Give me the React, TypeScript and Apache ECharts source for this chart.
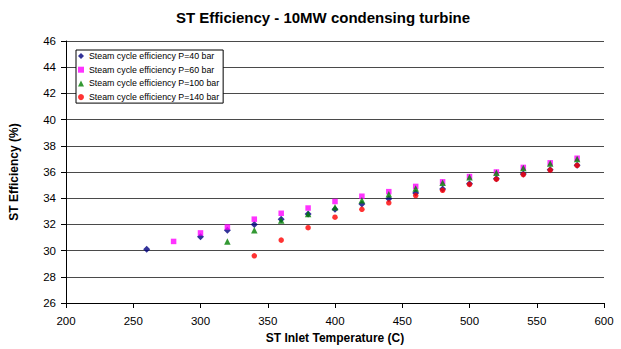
import React, { useEffect, useRef } from "react";
import * as echarts from "echarts";

// Inlet temperatures (C) for each pressure level
const temps40 = [260, 300, 320, 340, 360, 380, 400, 420, 440, 460, 480, 500, 520, 540, 560, 580];
const eff40 = [30.1, 31.05, 31.55, 32.0, 32.4, 32.8, 33.15, 33.55, 33.95, 34.4, 34.7, 35.1, 35.48, 35.85, 36.18, 36.52];

const temps60 = [280, 300, 320, 340, 360, 380, 400, 420, 440, 460, 480, 500, 520, 540, 560, 580];
const eff60 = [30.7, 31.35, 31.8, 32.4, 32.85, 33.25, 33.75, 34.15, 34.5, 34.9, 35.25, 35.65, 36.0, 36.35, 36.7, 37.05];

const temps100 = [320, 340, 360, 380, 400, 420, 440, 460, 480, 500, 520, 540, 560, 580];
const eff100 = [30.7, 31.55, 32.3, 32.8, 33.3, 33.85, 34.3, 34.75, 35.18, 35.6, 35.95, 36.3, 36.65, 37.0];

const temps140 = [340, 360, 380, 400, 420, 440, 460, 480, 500, 520, 540, 560, 580];
const eff140 = [29.6, 30.8, 31.75, 32.55, 33.15, 33.65, 34.2, 34.6, 35.05, 35.45, 35.8, 36.15, 36.5];

const seriesNames = [
  "Steam cycle efficiency P=40 bar",
  "Steam cycle efficiency P=60 bar",
  "Steam cycle efficiency P=100 bar",
  "Steam cycle efficiency P=140 bar",
];

const pairs = (xs: number[], ys: number[]) => xs.map((x, i) => [x, ys[i]]);

export default function App() {
  const ref = useRef<HTMLDivElement>(null);

  useEffect(() => {
    if (!ref.current) return;
    const chart = echarts.init(ref.current, null, { renderer: "svg" });
    const font = "Liberation Sans, Arial, sans-serif";
    chart.setOption({
      animation: false,
      backgroundColor: "#fff",
      textStyle: { fontFamily: font },
      graphic: [
        {
          type: "text",
          x: 323,
          y: 17,
          style: {
            text: "ST Efficiency - 10MW condensing turbine",
            fontFamily: font,
            fontSize: 15,
            fontWeight: "bold",
            fill: "#000",
            align: "center",
            verticalAlign: "middle",
          },
        },
      ],
      grid: { left: 65, right: 17, top: 41, bottom: 46, containLabel: false },
      legend: {
        orient: "vertical",
        left: 76,
        top: 50,
        padding: [1, 4, 1, 2],
        itemWidth: 6,
        itemHeight: 6,
        itemGap: 3.7,
        backgroundColor: "#fff",
        borderColor: "#000",
        borderWidth: 1,
        borderRadius: 0,
        textStyle: { fontFamily: font, fontSize: 8.8, color: "#000", lineHeight: 10 },
        data: seriesNames,
      },
      xAxis: {
        type: "value",
        min: 200,
        max: 600,
        interval: 50,
        name: "ST Inlet Temperature (C)",
        nameLocation: "middle",
        nameGap: 24,
        nameTextStyle: { fontFamily: font, fontSize: 12, fontWeight: "bold", color: "#000" },
        axisLine: { show: true, onZero: false, lineStyle: { color: "#000", width: 1 } },
        axisTick: { show: true, inside: false, length: 5, lineStyle: { color: "#000" } },
        axisLabel: { fontFamily: font, fontSize: 11.5, color: "#000", margin: 12 },
        splitLine: { show: false },
      },
      yAxis: {
        type: "value",
        min: 26,
        max: 46,
        interval: 2,
        name: "ST Efficiency (%)",
        nameLocation: "middle",
        nameGap: 46,
        nameTextStyle: { fontFamily: font, fontSize: 12, fontWeight: "bold", color: "#000" },
        axisLine: { show: true, lineStyle: { color: "#000", width: 1 } },
        axisTick: { show: true, inside: false, length: 5, lineStyle: { color: "#000" } },
        axisLabel: { fontFamily: font, fontSize: 11.5, color: "#000", margin: 10 },
        splitLine: { show: true, lineStyle: { color: "#4a4a4a", width: 1 } },
      },
      series: [
        {
          name: seriesNames[0],
          type: "scatter",
          symbol: "diamond",
          symbolSize: 7,
          itemStyle: { color: "#000080" },
          data: pairs(temps40, eff40),
        },
        {
          name: seriesNames[1],
          type: "scatter",
          symbol: "rect",
          symbolSize: 5.5,
          itemStyle: { color: "#ff00ff" },
          data: pairs(temps60, eff60),
        },
        {
          name: seriesNames[2],
          type: "scatter",
          symbol: "triangle",
          symbolSize: 6.5,
          itemStyle: { color: "#008000" },
          data: pairs(temps100, eff100),
        },
        {
          name: seriesNames[3],
          type: "scatter",
          symbol: "circle",
          symbolSize: 5.5,
          itemStyle: { color: "#ff0000" },
          data: pairs(temps140, eff140),
        },
      ],
    });
    return () => chart.dispose();
  }, []);

  return <div ref={ref} style={{ width: 621, height: 349, position: "absolute", left: 0, top: 0 }} />;
}
